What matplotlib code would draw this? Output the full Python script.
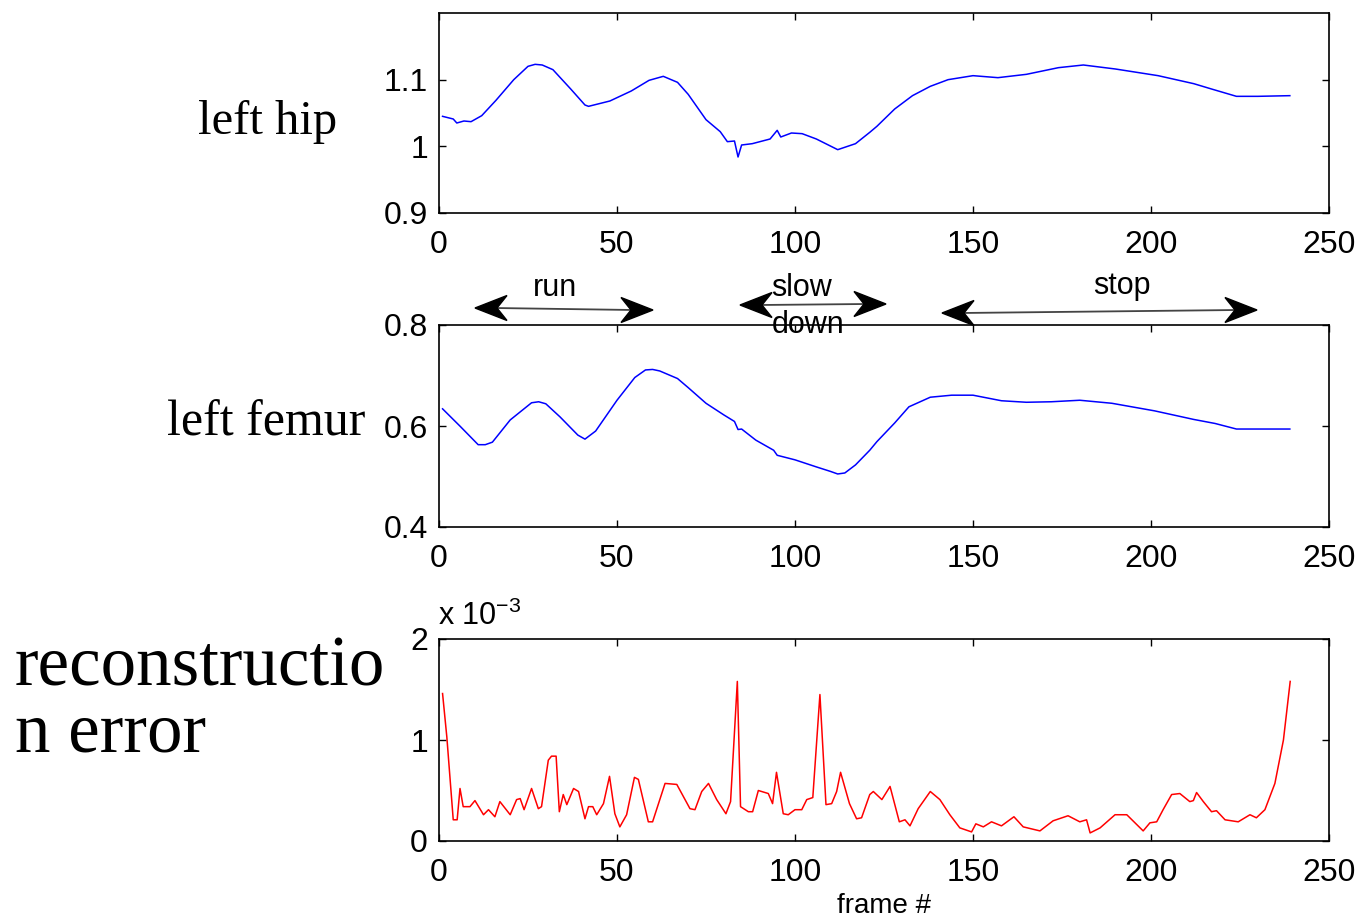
import matplotlib
matplotlib.use("Agg")
import matplotlib.pyplot as plt
from matplotlib.patches import Polygon
from matplotlib.lines import Line2D

plt.rcParams['font.family'] = ['Liberation Sans', 'DejaVu Sans']
plt.rcParams['mathtext.fontset'] = 'custom'
plt.rcParams['mathtext.rm'] = 'Liberation Sans'
plt.rcParams['mathtext.default'] = 'regular'

# left hip angle
hip_frames = [1, 4, 5, 7, 9, 12, 16, 21, 25, 27, 29, 32, 37, 41, 42, 48, 54, 59, 63, 67,
              70, 75, 79, 81, 83, 84, 85, 88, 93, 95, 96, 99, 102, 106, 112, 117, 121,
              123, 128, 133, 138, 143, 150, 157, 165, 174, 181, 190, 202, 212, 217, 224,
              230, 239]
hip_vals = [1.045, 1.041, 1.035, 1.038, 1.037, 1.046, 1.069, 1.100, 1.120, 1.123, 1.122,
            1.115, 1.086, 1.062, 1.060, 1.068, 1.083, 1.099, 1.105, 1.096, 1.078, 1.040,
            1.022, 1.007, 1.008, 0.984, 1.002, 1.004, 1.011, 1.024, 1.014, 1.020, 1.019,
            1.011, 0.995, 1.004, 1.021, 1.030, 1.056, 1.076, 1.090, 1.100, 1.106, 1.103,
            1.108, 1.118, 1.122, 1.116, 1.106, 1.094, 1.086, 1.075, 1.075, 1.076]

# left femur angle
femur_frames = [1, 6, 11, 13, 15, 20, 26, 28, 30, 34, 39, 41, 44, 50, 55, 58, 60, 62, 67,
                70, 75, 80, 83, 84, 85, 89, 94, 95, 100, 106, 110, 112, 114, 117, 121,
                123, 128, 132, 138, 144, 150, 158, 165, 172, 180, 189, 201, 212, 218, 224,
                231, 239]
femur_vals = [0.634, 0.599, 0.563, 0.563, 0.568, 0.612, 0.646, 0.648, 0.644, 0.618, 0.582,
              0.574, 0.590, 0.651, 0.696, 0.711, 0.712, 0.709, 0.694, 0.676, 0.645, 0.622,
              0.609, 0.593, 0.594, 0.572, 0.552, 0.542, 0.533, 0.519, 0.510, 0.505, 0.507,
              0.523, 0.552, 0.569, 0.606, 0.638, 0.657, 0.661, 0.661, 0.650, 0.647, 0.648,
              0.651, 0.645, 0.630, 0.613, 0.605, 0.594, 0.594, 0.594]

# reconstruction error (x 1e-3)
err_frames = [1, 2.2, 4, 5.1, 5.9, 6.8, 8.7, 10.1, 12.5, 13.9, 15.7, 17.1, 20, 21.8, 22.8,
              23.9, 26, 27.9, 28.8, 30.7, 31.6, 32.9, 33.8, 34.9, 35.9, 37.8, 39.2, 41, 42,
              43.2, 44.3, 46.2, 47.9, 49.4, 50.8, 52.7, 54.9, 56, 58.8, 60, 63.5, 66.8,
              70.5, 71.9, 73.8, 75.7, 78, 80.6, 81.9, 83.8, 84.7, 86.9, 88.1, 89.7, 92.5,
              93.7, 94.8, 96.7, 98.1, 100, 101.9, 103.3, 105, 107, 108.7, 110.3, 111.7,
              112.8, 115.3, 117.3, 118.7, 121, 122, 124.4, 126.7, 129.3, 130.9, 132.3,
              134.6, 138, 140.7, 143.5, 146.3, 149.6, 150.8, 152.9, 155.2, 158, 161.5,
              164.1, 168.8, 172.5, 176.7, 180, 181.9, 182.9, 185.7, 189.9, 193.2, 197.8,
              199.7, 201.6, 203.4, 205.8, 208.1, 210.9, 211.9, 212.8, 214.7, 217, 218.4,
              220.8, 224.5, 227.8, 229.6, 232, 234.8, 237.2, 239.1]
err_vals = [1.46, 1.03, 0.21, 0.21, 0.52, 0.34, 0.34, 0.40, 0.26, 0.31, 0.24, 0.39, 0.26,
            0.41, 0.42, 0.31, 0.52, 0.32, 0.34, 0.80, 0.84, 0.84, 0.29, 0.46, 0.36, 0.52,
            0.49, 0.22, 0.34, 0.34, 0.26, 0.37, 0.64, 0.27, 0.14, 0.26, 0.63, 0.61, 0.19,
            0.19, 0.57, 0.56, 0.32, 0.31, 0.49, 0.57, 0.41, 0.27, 0.39, 1.58, 0.34, 0.29,
            0.29, 0.50, 0.47, 0.37, 0.68, 0.27, 0.26, 0.31, 0.31, 0.41, 0.43, 1.45, 0.36,
            0.37, 0.49, 0.68, 0.37, 0.22, 0.23, 0.46, 0.49, 0.41, 0.54, 0.19, 0.21, 0.15,
            0.32, 0.49, 0.41, 0.26, 0.13, 0.09, 0.17, 0.14, 0.19, 0.15, 0.24, 0.14, 0.10,
            0.20, 0.25, 0.19, 0.21, 0.08, 0.13, 0.26, 0.26, 0.10, 0.18, 0.19, 0.31, 0.46,
            0.47, 0.39, 0.40, 0.48, 0.39, 0.29, 0.30, 0.21, 0.19, 0.26, 0.23, 0.31, 0.57,
            1.00, 1.58]

x_ticks = [0, 50, 100, 150, 200, 250]
phases = ['run', 'slow', 'down', 'stop']

W, H = 1361, 924
fig = plt.figure(figsize=(W / 100, H / 100), dpi=100)


def fx(px):
    return px / W


def fy(py):
    return 1 - py / H


def make_axes(top, bottom):
    ax = fig.add_axes([fx(439), fy(bottom), fx(1329) - fx(439), fy(top) - fy(bottom)])
    ax.set_xlim(0, 250)
    ax.set_xticks(x_ticks)
    ax.tick_params(direction='in', length=5, width=1, labelsize=23,
                   top=True, right=True)
    ax.tick_params(axis='x', pad=12)
    ax.tick_params(axis='y', pad=8)
    for s in ax.spines.values():
        s.set_linewidth(1.2)
    return ax


ax1 = make_axes(13, 213)
ax1.plot(hip_frames, hip_vals, color='#0000ff', lw=1.1)
ax1.set_ylim(0.9, 1.2)
ax1.set_yticks([0.9, 1.0, 1.1])
ax1.set_yticklabels(['0.9', '1', '1.1'])

ax2 = make_axes(325, 527)
ax2.plot(femur_frames, femur_vals, color='#0000ff', lw=1.1)
ax2.set_ylim(0.4, 0.8)
ax2.set_yticks([0.4, 0.6, 0.8])

ax3 = make_axes(639, 841)
ax3.plot(err_frames, err_vals, color='#ff0000', lw=1.1)
ax3.set_ylim(0, 2)
ax3.set_yticks([0, 1, 2])
ax3.set_xlabel('frame #', fontsize=20, labelpad=4)
fig.text(fx(438), fy(625), r'x 10$^{-3}$', fontsize=22, va='baseline', ha='left')

# side labels
serif = ['Liberation Serif', 'DejaVu Serif']
fig.text(fx(268), fy(122), 'left hip', family=serif, fontsize=35, ha='center', va='center')
fig.text(fx(266), fy(423), 'left femur', family=serif, fontsize=36, ha='center', va='center')
fig.text(fx(15), fy(685), 'reconstructio', family=serif, fontsize=51, ha='left',
         va='baseline')
fig.text(fx(15), fy(752), 'n error', family=serif, fontsize=51, ha='left', va='baseline')


# phase arrows
def head(tx, ty, d):
    L, hw, notch = 32, 12.5, 10
    pts = [(tx, ty), (tx - d * L, ty - hw), (tx - d * (L - notch), ty), (tx - d * L, ty + hw)]
    fig.add_artist(Polygon([(fx(x), fy(y)) for x, y in pts], closed=True,
                           transform=fig.transFigure, color='black', zorder=5))


arrow_ends = [((475, 308), (653, 310)), ((740, 305), (886, 304)), ((942, 313), (1257, 310))]
for p0, p1 in arrow_ends:
    fig.add_artist(Line2D([fx(p0[0] + 20), fx(p1[0] - 20)], [fy(p0[1]), fy(p1[1])],
                          transform=fig.transFigure, color='#444444', lw=1.3, zorder=4))
    head(p0[0], p0[1], -1)
    head(p1[0], p1[1], 1)

label_pos = [(555, 288), (802, 288), (808, 325), (1122, 286)]
for lab, (lx, ly) in zip(phases, label_pos):
    fig.text(fx(lx), fy(ly), lab, fontsize=22, ha='center', va='center', zorder=6)

fig.savefig('out.png', dpi=100)
